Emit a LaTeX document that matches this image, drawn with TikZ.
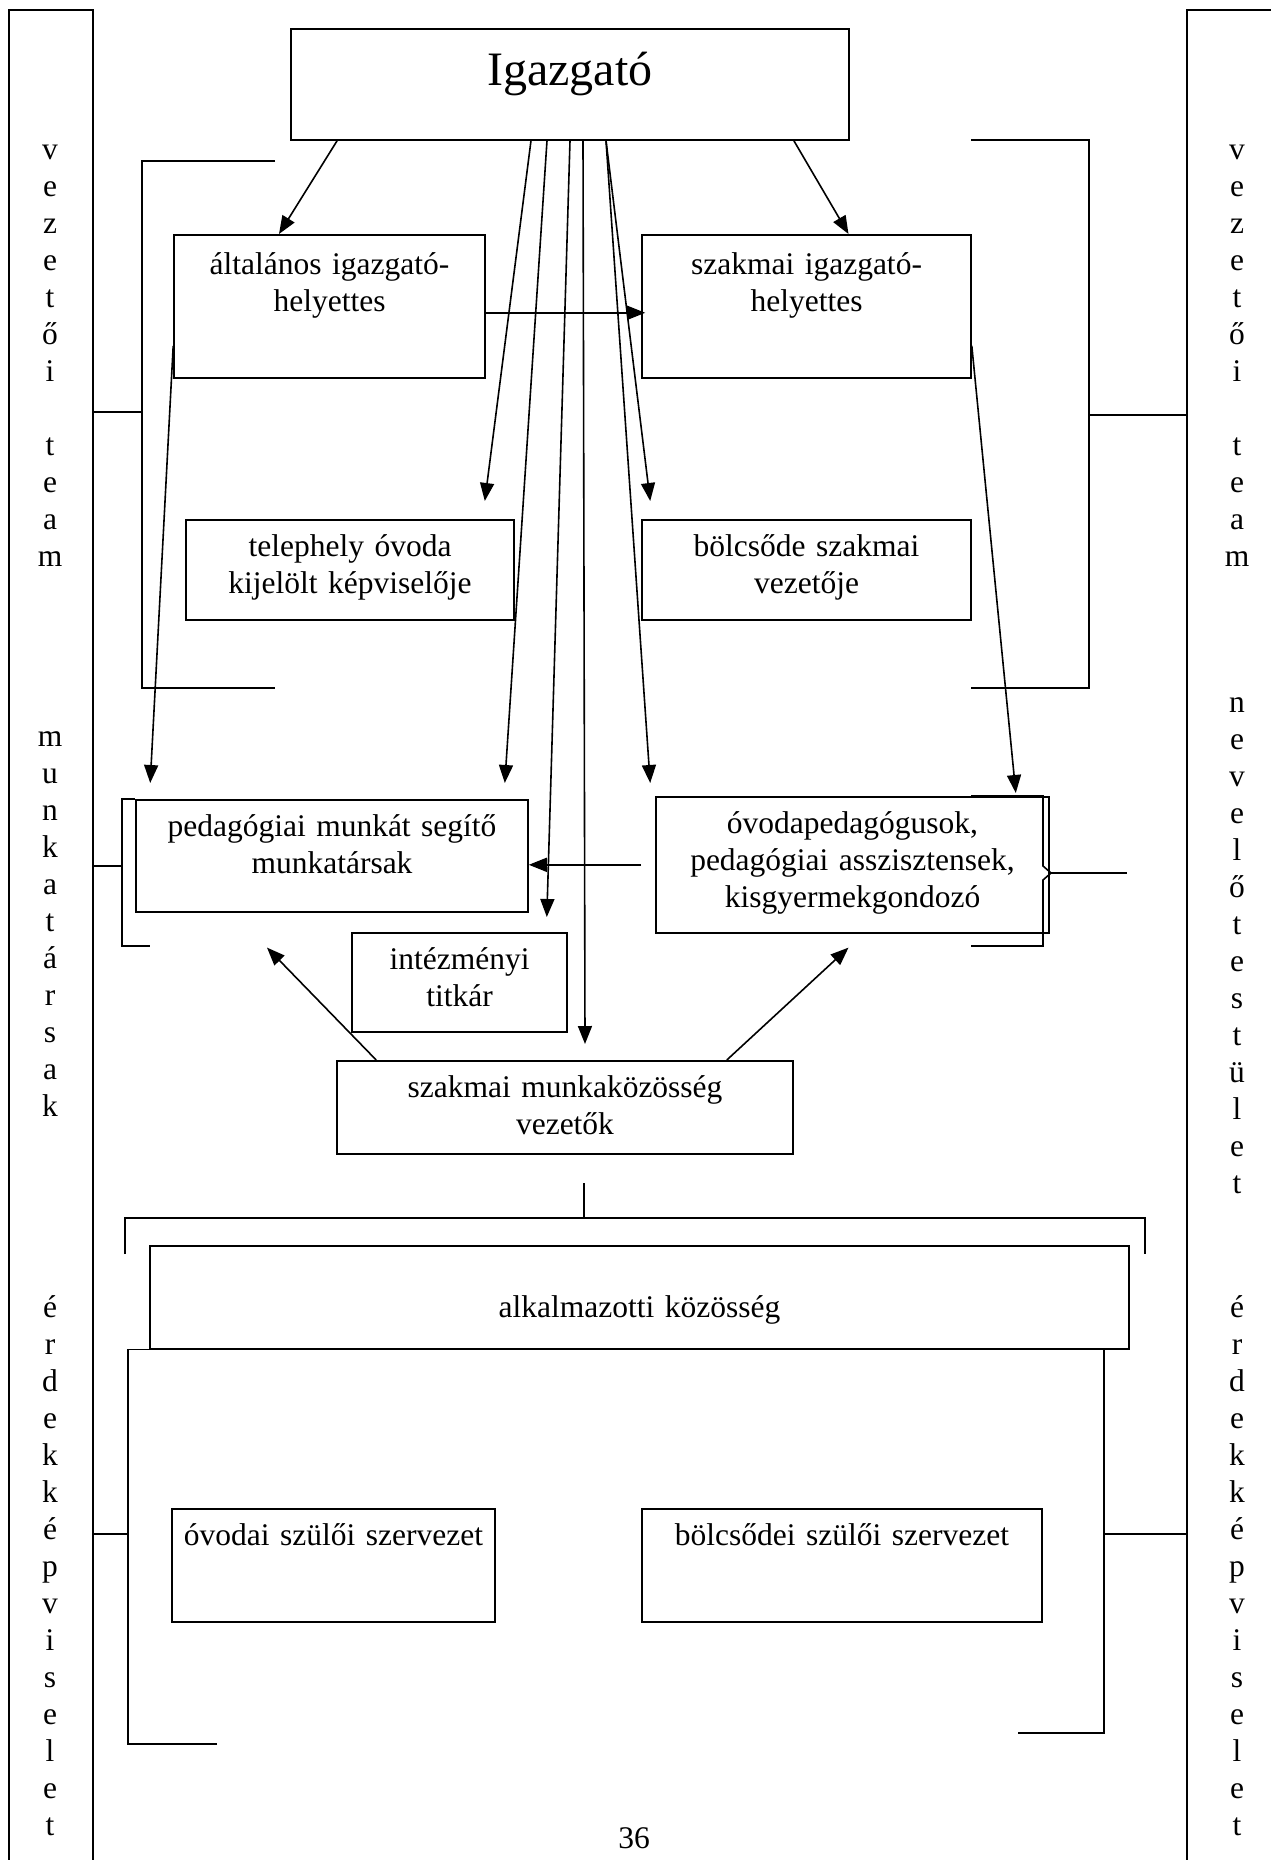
\documentclass[tikz,border=0pt]{standalone}
\usepackage{fontspec}
\setmainfont{Liberation Serif}
\usetikzlibrary{arrows.meta}

\newcommand{\boxfont}{\fontsize{31.5}{37}\selectfont}

\tikzset{
  box/.style={draw, line width=1.6pt, anchor=north, align=center, inner sep=0pt, text height=37pt, font=\boxfont},
  arr/.style={-{Triangle[length=18pt,width=14pt]}, line width=1.6pt},
  brk/.style={line width=1.6pt},
  colbox/.style={draw, line width=2.2pt, minimum width=84pt, minimum height=1870pt, inner sep=0pt},
  colword/.style={anchor=north, align=center, inner sep=0pt, font=\boxfont},
}

\begin{document}
\begin{tikzpicture}[x=1pt,y=-1pt]
\useasboundingbox (0,0) rectangle (1271,1860);

% side columns
\node[colbox] (leftcol) at (51,945) {};
\node[colbox, minimum width=88pt] (rightcol) at (1231,945) {};

\node[colword] (lvez) at (50,145) {v\\e\\z\\e\\t\\ő\\i\\[37pt]t\\e\\a\\m};
\node[colword] (lmunk) at (50,731) {m\\u\\n\\k\\a\\t\\á\\r\\s\\a\\k};
\node[colword] (lerd) at (50,1295) {é\\r\\d\\e\\k\\k\\é\\p\\v\\i\\s\\e\\l\\e\\t};
\node[colword] (rvez) at (1237,145) {v\\e\\z\\e\\t\\ő\\i\\[37pt]t\\e\\a\\m};
\node[colword] (rnev) at (1237,697) {n\\e\\v\\e\\l\\ő\\t\\e\\s\\t\\ü\\l\\e\\t};
\node[colword] (rerd) at (1237,1295) {é\\r\\d\\e\\k\\k\\é\\p\\v\\i\\s\\e\\l\\e\\t};

% boxes
\node[box, text width=558pt, text height=57pt, text depth=54pt, font=\fontsize{48}{56}\selectfont] (igazgato) at (570,28) {Igazgató};
\node[box, text width=311pt, text height=40pt, text depth=103pt] (altih) at (329.5,234) {általános igazgató-\\helyettes};
\node[box, text width=329pt, text height=40pt, text depth=103pt] (szakih) at (806.5,234) {szakmai igazgató-\\helyettes};
\node[box, text width=328pt, text depth=63pt] (telephely) at (350,519) {telephely óvoda\\kijelölt képviselője};
\node[box, text width=329pt, text depth=63pt] (bolcsode) at (806.5,519) {bölcsőde szakmai\\vezetője};
\node[box, text width=392pt, text depth=75pt] (pedmunk) at (332,799) {pedagógiai munkát segítő\\munkatársak};
\node[box, text width=393pt, text depth=99pt] (ovped) at (852.5,796) {óvodapedagógusok,\\pedagógiai asszisztensek,\\kisgyermekgondozó};
\node[box, text width=215pt, text depth=62pt] (titkar) at (459.5,932) {intézményi\\titkár};
\node[box, text width=456pt, text depth=56pt] (szmk) at (565,1060) {szakmai munkaközösség\\vezetők};
\node[box, text width=979pt, text height=72pt, text depth=31pt] (alkalm) at (639.5,1245) {alkalmazotti közösség};
\node[box, text width=323pt, text depth=76pt] (ovszul) at (333.5,1508) {óvodai szülői szervezet};
\node[box, text width=400pt, text depth=76pt] (bolszul) at (842,1508) {bölcsődei szülői szervezet};

\node[font=\boxfont] (pagenum) at (634,1838) {36};

% arrows from the top
\draw[arr] ([xshift=47pt]igazgato.south west) -- ([xshift=-50.5pt]altih.north);
\draw[arr] ([xshift=-56pt]igazgato.south east) -- ([xshift=42pt]szakih.north);
\draw[arr] ([xshift=-39pt]igazgato.south) -- ([xshift=-30pt,yshift=18pt]telephely.north east);
\draw[arr] ([xshift=-23pt]igazgato.south) -- ([xshift=-24pt,yshift=16pt]pedmunk.north east);
\draw[arr] (igazgato.south) -- ([xshift=-21pt,yshift=15pt]titkar.north east);
\draw[arr] ([xshift=13pt]igazgato.south) -- ([xshift=20pt,yshift=16pt]szmk.north);
\draw[arr] ([xshift=36pt]igazgato.south) -- ([xshift=9pt,yshift=18pt]bolcsode.north west);
\draw[arr] ([xshift=36pt]igazgato.south) -- ([xshift=-5pt,yshift=13pt]ovped.north west);

\draw[arr] ([yshift=-6.5pt]altih.east) -- ([yshift=-6.5pt,xshift=4pt]szakih.west);
\draw[arr] ([yshift=-39.5pt]altih.west) -- ([xshift=15pt,yshift=16pt]pedmunk.north west);
\draw[arr] ([yshift=-39.5pt]szakih.east) -- ([xshift=-34pt,yshift=3pt]ovped.north east);
\draw[arr] ([xshift=-14pt]ovped.west) -- (pedmunk.east |- ovped.west);
\draw[arr] ([xshift=40pt]szmk.north west) -- ([xshift=-65pt,yshift=-35pt]pedmunk.south);
\draw[arr] ([xshift=-67pt]szmk.north east) -- ([xshift=-4pt,yshift=-14pt]ovped.south);

% vezetoi team
\coordinate (vtl) at (142,412);
\draw[brk] (275,161) -| (vtl) |- (275,688);
\draw[brk] (leftcol.east |- vtl) -- (vtl);
\coordinate (vtr) at (1089,415);
\draw[brk] (971,140) -| (vtr) |- (971,688);
\draw[brk] (vtr) -- (rightcol.west |- vtr);

% munkatarsak
\coordinate (mtl) at (122,866);
\draw[brk] (pedmunk.north west) -| (mtl) |- (150,946);
\draw[brk] (leftcol.east |- mtl) -- (mtl);

% nevelotestulet
\coordinate (nvt) at (1051,873);
\coordinate (nvend) at (1127,873);
\draw[brk] (971,796) -| (1043,866) -- (nvt) -- (1043,880) |- (971,946);
\draw[brk] (nvt) -- (nvend);

% alkalmazotti kozosseg
\coordinate (akt) at (584,1218);
\draw[brk] (584,1183) -- (akt);
\draw[brk] (125,1254) |- (1145,1218) -- (1145,1254);

% erdekkepviselet
\coordinate (ekl) at (128,1534);
\coordinate (ekr) at (1104,1534);
\draw[brk] (217,1744) -| (ekl) |- (alkalm.south west);
\draw[brk] (alkalm.south -| ekr) -- (ekr) |- (1018,1733);
\draw[brk] (leftcol.east |- ekl) -- (ekl);
\draw[brk] (ekr) -- (rightcol.west |- ekr);
\end{tikzpicture}
\end{document}
